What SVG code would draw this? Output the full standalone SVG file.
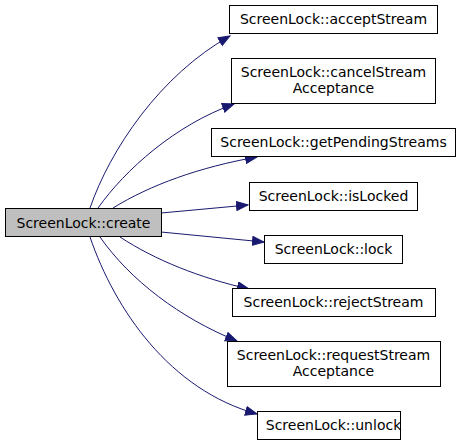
<svg xmlns="http://www.w3.org/2000/svg" width="461" height="445" viewBox="0 0 461 445">
<style>
.n rect{fill:#fff;stroke:#000;stroke-width:1}
.n.cur rect{fill:#bfbfbf}
text{font-family:"DejaVu Sans",sans-serif;font-size:14px;text-anchor:middle;fill:#000}
.e path{fill:none;stroke:#191970;stroke-width:1;marker-end:url(#ah)}
</style>
<defs>
<marker id="ah" markerUnits="userSpaceOnUse" markerWidth="14" markerHeight="12" refX="12" refY="5" orient="auto">
<path d="M0.5,0.5 L12,5 L0.5,9.5 Z" fill="#191970" stroke="#191970"/>
</marker>
</defs>
<rect width="461" height="445" fill="#fff"/>
<g class="e" id="edges">
<path d="M90,208 C110,150 160,75 230,36"/>
<path d="M98,208 C125,170 175,125 234,104"/>
<path d="M113,208 C150,185 200,167 257,157"/>
<path d="M161,213 L248,205"/>
<path d="M161,232 L264,242"/>
<path d="M120,237 C155,260 200,278 249,289"/>
<path d="M100,237 C130,280 180,318 237,341"/>
<path d="M90,237 C115,310 170,390 257,414"/>
</g>
<g class="n cur" id="create"><rect x="5.5" y="208.5" width="156" height="28"/><text x="83.5" y="227.5">ScreenLock::create</text></g>
<g class="n" id="acceptStream"><rect x="229.5" y="5.5" width="208" height="28"/><text x="333.5" y="24">ScreenLock::acceptStream</text></g>
<g class="n" id="cancelStreamAcceptance"><rect x="231.5" y="58.5" width="204" height="45"/><text x="333.5" y="77">ScreenLock::cancelStream</text><text x="333.5" y="93">Acceptance</text></g>
<g class="n" id="getPendingStreams"><rect x="211.5" y="128.5" width="244" height="28"/><text x="333.5" y="147">ScreenLock::getPendingStreams</text></g>
<g class="n" id="isLocked"><rect x="249.5" y="182.5" width="168" height="28"/><text x="333.5" y="201">ScreenLock::isLocked</text></g>
<g class="n" id="lock"><rect x="264.5" y="235.5" width="138" height="28"/><text x="333.5" y="254">ScreenLock::lock</text></g>
<g class="n" id="rejectStream"><rect x="232.5" y="288.5" width="203" height="28"/><text x="333.5" y="307">ScreenLock::rejectStream</text></g>
<g class="n" id="requestStreamAcceptance"><rect x="227.5" y="341.5" width="213" height="45"/><text x="333.5" y="360">ScreenLock::requestStream</text><text x="333.5" y="376">Acceptance</text></g>
<g class="n" id="unlock"><rect x="257.5" y="411.5" width="143" height="28"/><text x="333.5" y="430">ScreenLock::unlock</text></g>
</svg>
